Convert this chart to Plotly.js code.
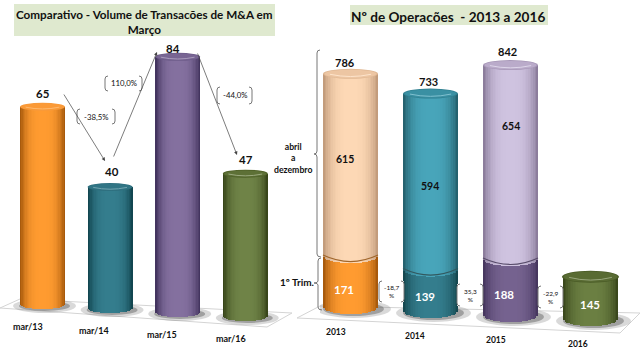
<!DOCTYPE html>
<html><head><meta charset="utf-8">
<script src="https://cdn.plot.ly/plotly-3.0.1.min.js"></script>
<style>html,body{margin:0;padding:0;background:#fff}#c{width:640px;height:352px}</style>
</head><body><div id="c"></div>
<script>
// ---- data ----
const marchLabels = ['mar/13','mar/14','mar/15','mar/16'];
const marchValues = [65,40,84,47];
const marchChanges = ['-38,5%','110,0%','-44,0%'];
const yearLabels = ['2013','2014','2015','2016'];
const firstQuarter = [171,139,188,145];
const restOfYear = [615,594,654];
const yearTotals = [786,733,842];
const quarterChanges = ['-18,7<br>%','35,3<br>%','-22,9<br>%'];
const leftTitle = 'Comparativo - Volume de Transacões de M&A em<br>Março';
const rightTitle = 'Nº de Operacões\u00a0 - 2013 a 2016';

// ---- styles ----
const W=640,H=352;
const FONT='Lato, Carlito, "Open Sans", sans-serif';
const P=x=>x/W, Q=y=>1-y/H;
const hex=c=>[1,3,5].map(i=>parseInt(c.substr(i,2),16));
const mix=(a,b,t)=>{const A=hex(a),B=hex(b);return 'rgb('+A.map((v,i)=>Math.round(v+(B[i]-v)*t)).join(',')+')';};
const pal={
 orange:['#FF9B30','#A85A0C','#F79A3C'], teal:['#347D8D','#124650','#2F6F7E'],
 purple:['#84709F','#43345F','#6E5C8A'], green:['#6F8347','#38461A','#4F6128'],
 peach:['#FDD8B5','#C39C7C','#E0B894'], cyan:['#48A5BA','#25626F','#2F7F90'],
 lav:['#CFC3E0','#8C7D9C','#A898B8'], dteal:['#347D8D','#154850','#235A66'],
 dpurple:['#75628F','#47375F','#5F4D7A'], dgreen:['#6B7F42','#3A481C','#4A5B26']
};
const marchPal=['orange','teal','purple','green'];
const upperPal=['peach','cyan','lav'];
const lowerPal=['orange','dteal','dpurple','dgreen'];
const levels=[]; for(let k=1;k>0.04;k-=0.06) levels.push(k);
const shade=(p,k)=>mix(pal[p][0],pal[p][1],Math.pow(k,3.2));

// geometry of the two pictures: pixels per unit, floor step
const L={scale:3.05,y0:305,first:42.5,gap:67.6,step:4,w:45/67.6,b:4,px:45};
const R={scale:0.298,y0:308,first:30.5,gap:80,step:4,w:55/80,b:6,px:55};

const traces=[],shapes=[],ann=[];
function strips(xa,ya,G,n,tops,bases,pals,arcBottom){
  levels.forEach(k=>{
    const drop=G.b*Math.sqrt(Math.max(0,1-k*k));
    const xs=[],ys=[],bs=[],cs=[];
    tops.forEach((t,i)=>{
      const tilt=G.step*i/G.scale;
      const bb=bases[i]-tilt-(bases[i]===0||arcBottom?drop/G.scale:0);
      xs.push(i); bs.push(bb); ys.push(t-tilt-bb); cs.push(shade(pals[i],k));
    });
    traces.push({type:'bar',xaxis:xa,yaxis:ya,x:xs,y:ys,base:bs,width:k*G.w,
      marker:{color:cs,line:{width:0}},hoverinfo:'skip',showlegend:false});
  });
}
function ell(xref,yref,x,y,rx,ry,fill,layer,dx,dy){
  shapes.push({type:'circle',xref,yref,xsizemode:'pixel',ysizemode:'pixel',xanchor:x,yanchor:y,
    x0:-rx+(dx||0),x1:rx+(dx||0),y0:-ry+(dy||0),y1:ry+(dy||0),fillcolor:fill,line:{width:0},layer:layer||'above'});
}
function cap(xref,yref,x,y,rx,ry,p){
  ell(xref,yref,x,y,rx,ry,pal[p][2]);
  ell(xref,yref,x,y,rx-1.5,ry-0.8,mix(pal[p][0],pal[p][2],0.55));
  shapes.push({type:'path',xref,yref,xsizemode:'pixel',ysizemode:'pixel',xanchor:x,yanchor:y,
    path:`M ${-rx*0.75},${-ry*0.1} Q 0,${-ry*1.0} ${rx*0.75},${-ry*0.1}`,line:{width:1,color:mix(pal[p][0],'#FFFFFF',0.3)}});
}
function pathPaper(pts,opt){
  const d=pts.map((p,i)=>typeof p==='string'?p:(i?'L ':'M ')+P(p[0])+','+Q(p[1])).join(' ');
  shapes.push(Object.assign({type:'path',xref:'paper',yref:'paper',path:d},opt));
}
function curve(d,opt){ // d: [cmd, [x,y], ...] in page pixels
  const s=d.map(t=>typeof t==='string'?t:P(t[0])+','+Q(t[1])).join(' ');
  shapes.push(Object.assign({type:'path',xref:'paper',yref:'paper',path:s},opt));
}
function text(t,x,y,size,opt){
  ann.push(Object.assign({xref:'paper',yref:'paper',x:P(x),y:Q(y),text:t,showarrow:false,xanchor:'center',yanchor:'middle',
    font:{family:FONT,size,color:'#111'}},opt||{}));
}
const B=(t)=>'<b>'+t+'</b>';
function bracket(x0,x1,y0,y1){
  const o={line:{width:1,color:'#777'},layer:'above'};
  curve(['M',[x0+3,y0],'Q',[x0,y0],[x0,y0+3],'L',[x0,y1-3],'Q',[x0,y1],[x0+3,y1]],o);
  curve(['M',[x1-3,y0],'Q',[x1,y0],[x1,y0+3],'L',[x1,y1-3],'Q',[x1,y1],[x1-3,y1]],o);
}
function arrow(x0,y0,x1,y1){
  ann.push({xref:'paper',yref:'paper',x:P(x1),y:Q(y1),axref:'pixel',ayref:'pixel',ax:x0-x1,ay:y0-y1,text:'',
    showarrow:true,arrowhead:2,arrowsize:1,arrowwidth:0.7,arrowcolor:'#444'});
}

// ---- panel backgrounds & floors ----
shapes.push({type:'rect',xref:'paper',yref:'paper',x0:P(14),x1:P(275),y0:Q(36),y1:Q(4),fillcolor:'#DFE9CF',line:{width:0},layer:'below'});
shapes.push({type:'rect',xref:'paper',yref:'paper',x0:P(350),x1:P(548),y0:Q(25),y1:Q(5),fillcolor:'#DFE9CF',line:{width:0},layer:'below'});
const floorStyle={fillcolor:'#FFFFFF',line:{width:1,color:'#D4D4D4'},layer:'below'};
pathPaper([[0,308],[20,299],[292,313],[267,327],'Z'],floorStyle);
pathPaper([[297,318],[320,306],[640,313],[620,333],'Z'],floorStyle);

// ---- left chart ----
marchValues.forEach((v,i)=>{
  const by=(-L.step*i)/L.scale;
  ell('x','y',i,by,L.px/2+9,7,'rgba(130,130,130,0.30)','below',2,-1);
  ell('x','y',i,by,L.px/2+3,5,'rgba(90,90,90,0.45)','below',2,-1);
});
strips('x','y',L,4,marchValues,[0,0,0,0],marchPal);
marchValues.forEach((v,i)=>cap('x','y',i,v-L.step*i/L.scale,L.px/2,4,marchPal[i]));

const marchLabelPos=[[28,326],[94,330],[162,334],[231,338]];
marchLabels.forEach((t,i)=>text(B(t),marchLabelPos[i][0],marchLabelPos[i][1],9));
const marchShift=[0,2,-5,1], marchUp=[13,16,8,14];
marchValues.forEach((v,i)=>ann.push({xref:'x',yref:'y',x:i,y:v-L.step*i/L.scale,xshift:marchShift[i],yshift:marchUp[i],
  text:B(v),showarrow:false,font:{family:FONT,size:11.5,color:'#111'}}));
[[77,115,109,124],[105,142,76,91],[217,252,87,104]].forEach((b,i)=>{
  bracket(b[0],b[1],b[2],b[3]);
  text(marchChanges[i],(b[0]+b[1])/2,(b[2]+b[3])/2,7.8);
});
arrow(63,93,105,161); arrow(113,158,157,52); arrow(197,52,237,155);
text(B(leftTitle),144,21,11.7);

// ---- right chart ----
firstQuarter.forEach((v,i)=>{
  const by=(-R.step*i)/R.scale;
  ell('x2','y2',i,by,R.px/2+10,9,'rgba(130,130,130,0.30)','below',3,-1);
  ell('x2','y2',i,by,R.px/2+3,7,'rgba(90,90,90,0.45)','below',3,-1);
});
strips('x2','y2',R,4,firstQuarter,[0,0,0,0],lowerPal);
strips('x2','y2',R,3,yearTotals,firstQuarter.slice(0,3),upperPal,true);
yearTotals.forEach((v,i)=>cap('x2','y2',i,v-R.step*i/R.scale,R.px/2,5,upperPal[i]));
cap('x2','y2',3,firstQuarter[3]-R.step*3/R.scale,R.px/2+1,6,'dgreen');
firstQuarter.slice(0,3).forEach((v,i)=>shapes.push({type:'path',xref:'x2',yref:'y2',xsizemode:'pixel',ysizemode:'pixel',
  xanchor:i,yanchor:v-R.step*i/R.scale,path:`M ${-R.px/2},2 Q 0,-11 ${R.px/2},2`,line:{width:1.2,color:mix(pal[lowerPal[i]][1],'#888888',0.25)}}));

const yearLabelPos=[[336,332],[415,336],[496,340],[578,344]];
yearLabels.forEach((t,i)=>text(B(t),yearLabelPos[i][0],yearLabelPos[i][1],8.5));
const totalPos=[[345,62],[428,82],[507,52]];
yearTotals.forEach((v,i)=>text(B(v),totalPos[i][0],totalPos[i][1],11));
const restPos=[[345,159],[430,186],[511,126]];
restOfYear.forEach((v,i)=>text(B(v),restPos[i][0],restPos[i][1],10.5));
const quarterPos=[[344,289],[425,296],[504,294],[590,304]];
firstQuarter.forEach((v,i)=>text(B(v),quarterPos[i][0],quarterPos[i][1],11.5,{font:{family:FONT,size:11.5,color:'#FFF'}}));

[[379,404,281,302],[457,483,284,306],[538,563,286,308]].forEach((b,i)=>{
  shapes.push({type:'rect',xref:'paper',yref:'paper',x0:P(b[0]),x1:P(b[1]),y0:Q(b[3]),y1:Q(b[2]),fillcolor:'#FFF',line:{width:0}});
  bracket(b[0],b[1],b[2],b[3]);
  text(quarterChanges[i],(b[0]+b[1])/2,(b[2]+b[3])/2,6.5);
});

const braceStyle={line:{width:1,color:'#777'},layer:'above'};
curve(['M',[320,50],'Q',[317,50],[317,53],'L',[317,151],'Q',[317,154],[314,154],'Q',[317,154],[317,157],'L',[317,254],'Q',[317,257],[321,257]],braceStyle);
curve(['M',[321,258],'Q',[318,258],[318,261],'L',[318,281],'Q',[318,283],[314,283],'Q',[318,283],[318,285],'L',[318,307],'Q',[318,310],[322,310]],braceStyle);
text(B('abril<br>a<br>dezembro'),293,158,8.7);
text(B('1º Trim.'),297,282,10);
text(B(rightTitle),448,17,13.6);

const ax=(dom,a,b)=>({domain:dom,range:[a,b],visible:false,fixedrange:true});
const layout={
  width:W,height:H,margin:{l:0,r:0,t:0,b:0},paper_bgcolor:'#FFF',plot_bgcolor:'rgba(0,0,0,0)',
  barmode:'overlay',bargap:0,showlegend:false,
  xaxis:ax([0,0.5],-L.first/L.gap,(320-L.first)/L.gap),
  yaxis:ax([0,1],(L.y0-H)/L.scale,L.y0/L.scale),
  xaxis2:ax([0.5,1],-R.first/R.gap,(320-R.first)/R.gap),
  yaxis2:ax([0,1],(R.y0-H)/R.scale,R.y0/R.scale),
  shapes,annotations:ann
};
Plotly.newPlot('c',traces,layout,{displayModeBar:false,staticPlot:true});
</script></body></html>
